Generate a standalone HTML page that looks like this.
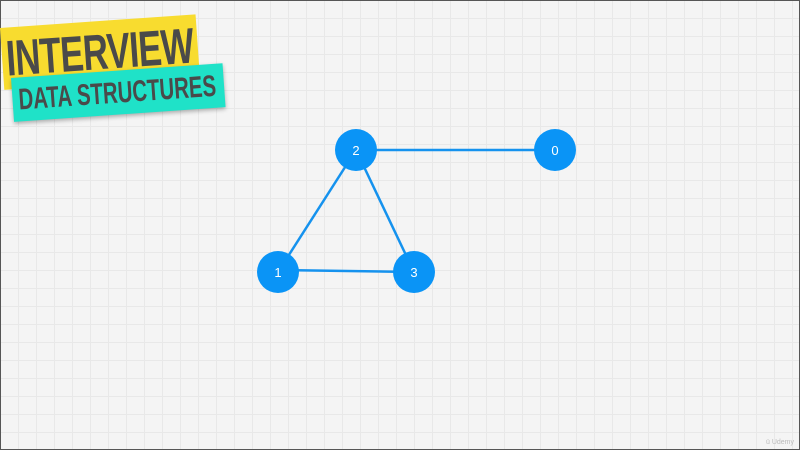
<!DOCTYPE html>
<html><head><style>
html,body{margin:0;padding:0}
body{width:800px;height:450px;overflow:hidden;position:relative;background-color:#f4f4f4;
background-image:linear-gradient(#e8e8e8 1px,transparent 1px),linear-gradient(90deg,#e8e8e8 1px,transparent 1px);
background-size:18px 18px;font-family:"Liberation Sans",sans-serif}
#fr{position:absolute;left:0;top:0;width:800px;height:450px;border:1px solid #555;box-sizing:border-box}
.b{position:absolute;font-weight:bold;color:#4a4a4a;white-space:nowrap;transform-origin:left top;overflow:hidden}
#y{left:0;top:28px;width:196px;height:62px;background:#f8dc2f;transform:rotate(-4deg);font-size:50px;line-height:62px;padding-left:4px;box-sizing:border-box;letter-spacing:-1px}
#t{left:11px;top:78px;width:212px;height:44px;background:#1fe2c8;transform:rotate(-4deg);font-size:30px;line-height:46px;padding-left:6px;box-sizing:border-box;box-shadow:0 2px 4px rgba(0,0,0,.3)}
</style></head><body>
<div id="fr"></div>
<div class="b" id="y"><span style="display:inline-block;transform:scaleX(.7);transform-origin:left">INTERVIEW</span></div>
<div class="b" id="t"><span style="display:inline-block;transform:scaleX(.68);transform-origin:left">DATA STRUCTURES</span></div>
<svg width="800" height="450" style="position:absolute;left:0;top:0">
<g stroke="#1592ee" stroke-width="2.5">
<line x1="356" y1="150" x2="555" y2="150"/>
<line x1="356" y1="150" x2="278" y2="272"/>
<line x1="356" y1="150" x2="414" y2="272"/>
<line x1="278" y1="270" x2="414" y2="272"/>
</g>
<g fill="#0a94f6">
<circle cx="356" cy="150" r="21"/><circle cx="555" cy="150" r="21"/>
<circle cx="278" cy="272" r="21"/><circle cx="414" cy="272" r="21"/>
</g>
<g fill="#fff" font-family="Liberation Sans,sans-serif" font-size="13" text-anchor="middle">
<text x="356" y="155">2</text><text x="555" y="155">0</text>
<text x="278" y="277">1</text><text x="414" y="277">3</text>
</g>
<text x="766" y="444" fill="#bbb" font-size="7" font-family="Liberation Sans,sans-serif">ü Udemy</text>
</svg>
</body></html>
